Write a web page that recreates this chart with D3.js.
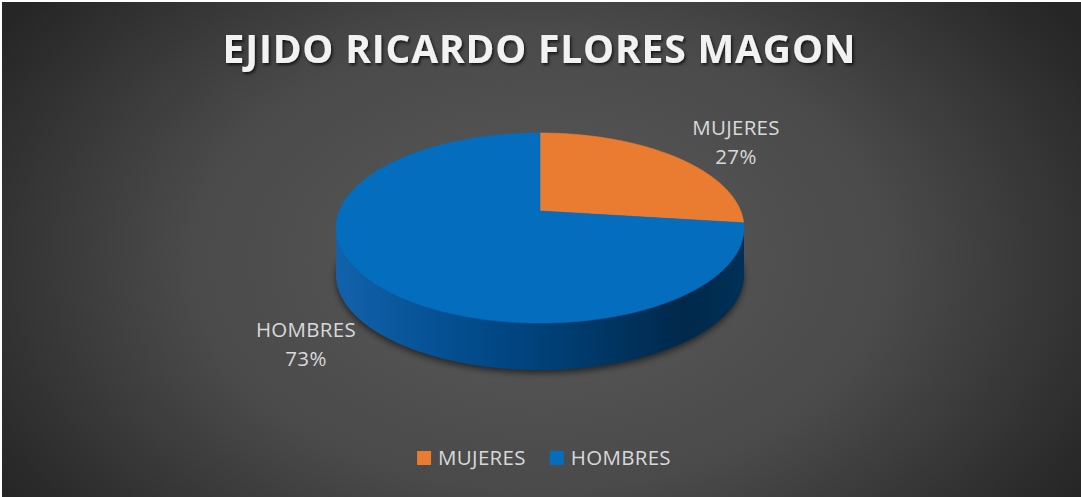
<!DOCTYPE html>
<html>
<head>
<meta charset="utf-8">
<script src="https://cdnjs.cloudflare.com/ajax/libs/d3/7.8.5/d3.min.js"></script>
<style>
  html, body { margin: 0; padding: 0; background: #ffffff; }
  svg { display: block; }
  text { font-family: "Open Sans", "DejaVu Sans", sans-serif; }
</style>
</head>
<body>
<div id="chart"></div>
<script>
// data
var categories = ["MUJERES", "HOMBRES"];
var values = [27, 73];
var percentLabels = ["27%", "73%"];
var colors = ["#ea7c31", "#056dbd"];
var title = "EJIDO RICARDO FLORES MAGON";

var W = 1081, H = 497;

var svg = d3.select("#chart")
  .append("svg")
  .attr("width", W)
  .attr("height", H);

var defs = svg.append("defs");

// background gradient
var bg = defs.append("radialGradient")
  .attr("id", "bg")
  .attr("gradientUnits", "userSpaceOnUse")
  .attr("cx", 540).attr("cy", 260).attr("r", 1)
  .attr("gradientTransform", "translate(540,260) scale(640,420) translate(-540,-260)");
bg.append("stop").attr("offset", "0%").attr("stop-color", "#5a5a5a");
bg.append("stop").attr("offset", "55%").attr("stop-color", "#4a4a4a");
bg.append("stop").attr("offset", "100%").attr("stop-color", "#262626");

// side wall gradient
var side = defs.append("linearGradient")
  .attr("id", "side")
  .attr("gradientUnits", "userSpaceOnUse")
  .attr("x1", 336).attr("x2", 745).attr("y1", 0).attr("y2", 0);
[["0%", "#1262ab"], ["30%", "#034d8f"], ["55%", "#003e73"], ["85%", "#00284a"], ["100%", "#003158"]]
  .forEach(function(s) {
    side.append("stop").attr("offset", s[0]).attr("stop-color", s[1]);
  });

var blur = defs.append("filter").attr("id", "blur")
  .attr("x", "-20%").attr("y", "-20%").attr("width", "140%").attr("height", "140%");
blur.append("feGaussianBlur").attr("stdDeviation", 3);

var tshadow = defs.append("filter").attr("id", "tshadow")
  .attr("x", "-10%").attr("y", "-30%").attr("width", "120%").attr("height", "160%");
tshadow.append("feDropShadow")
  .attr("dx", 1.5).attr("dy", 2).attr("stdDeviation", 1.5)
  .attr("flood-color", "#000").attr("flood-opacity", 0.7);

svg.append("rect")
  .attr("x", 2).attr("y", 2)
  .attr("width", W - 2).attr("height", H - 2)
  .attr("fill", "url(#bg)");

// title
var titleText = svg.append("text")
  .attr("x", 539)
  .attr("y", 63)
  .attr("text-anchor", "middle")
  .attr("fill", "#f2f2f2")
  .attr("font-size", 39)
  .attr("font-weight", "bold")
  .attr("filter", "url(#tshadow)")
  .text(title);
var tw = titleText.node().getComputedTextLength();
var ls = (633 - tw) / (title.length - 1);
titleText.attr("letter-spacing", ls)
  .attr("x", 539 + ls / 2);

// 3d pie projection
var cx = 540, cy = 211, R = 200.7, B = 92, K = 0.179, DEPTH = 47;

function proj(theta, dy) {
  var u = Math.sin(theta), v = Math.cos(theta);
  var s = 1 / (1 + K * v);
  return [cx + R * u * s, cy - B * v * s + (dy || 0)];
}

function arcPoints(a0, a1, dy) {
  var n = Math.max(2, Math.ceil(Math.abs(a1 - a0) / 0.01));
  var pts = [];
  for (var i = 0; i <= n; i++) {
    pts.push(proj(a0 + (a1 - a0) * i / n, dy));
  }
  return pts;
}

var line = d3.line();
var color = d3.scaleOrdinal().domain(categories).range(colors);

var pie = d3.pie().sort(null).value(function(d) { return d.value; });
var data = categories.map(function(c, i) {
  return { name: c, value: values[i], label: percentLabels[i] };
});
var arcs = pie(data);

// tangent angles of the visible side wall
var tR = Math.acos(-K), tL = 2 * Math.PI - Math.acos(-K);

// shadow under pie
var shadowPts = arcPoints(0, 2 * Math.PI, DEPTH + 3);
svg.append("path")
  .attr("d", line(shadowPts) + "Z")
  .attr("fill", "#000")
  .attr("opacity", 0.55)
  .attr("filter", "url(#blur)");

// side wall (front half)
var sidePts = arcPoints(tR, tL, 0).concat(arcPoints(tL, tR, DEPTH));
svg.append("path")
  .attr("d", line(sidePts) + "Z")
  .attr("fill", "url(#side)");

// top faces
svg.selectAll(".slice")
  .data(arcs)
  .enter()
  .append("path")
  .attr("class", "slice")
  .attr("d", function(d) {
    var pts = [[cx, cy]].concat(arcPoints(d.startAngle, d.endAngle, 0));
    return line(pts) + "Z";
  })
  .attr("fill", function(d) { return color(d.data.name); })
  .attr("stroke", function(d) { return color(d.data.name); })
  .attr("stroke-width", 0.6);

// data labels
var labelOffsets = { "MUJERES": [196, -69], "HOMBRES": [-234, 133] };
var labels = svg.selectAll(".dlabel")
  .data(arcs)
  .enter()
  .append("text")
  .attr("class", "dlabel")
  .attr("text-anchor", "middle")
  .attr("fill", "#d9d9d9")
  .attr("font-size", 20.5)
  .attr("letter-spacing", 0.3);
labels.append("tspan")
  .attr("x", function(d) { return cx + labelOffsets[d.data.name][0]; })
  .attr("y", function(d) { return cy + labelOffsets[d.data.name][1] - 7; })
  .text(function(d) { return d.data.name; });
labels.append("tspan")
  .attr("x", function(d) { return cx + labelOffsets[d.data.name][0]; })
  .attr("y", function(d) { return cy + labelOffsets[d.data.name][1] + 21.5; })
  .text(function(d) { return d.data.label; });

// legend
var legend = svg.append("g");
var lx = 0;
categories.forEach(function(c, i) {
  var g = legend.append("g").attr("transform", "translate(" + lx + ",0)");
  g.append("rect")
    .attr("x", 0).attr("y", -14)
    .attr("width", 14).attr("height", 14)
    .attr("fill", color(c));
  var t = g.append("text")
    .attr("x", 21).attr("y", 0)
    .attr("fill", "#d9d9d9")
    .attr("font-size", 20.5)
    .attr("letter-spacing", 0.3)
    .text(c);
  lx += 21 + t.node().getComputedTextLength() + 24;
});
var lw = lx - 24;
legend.attr("transform", "translate(" + (544 - lw / 2) + ",465)");
</script>
</body>
</html>
